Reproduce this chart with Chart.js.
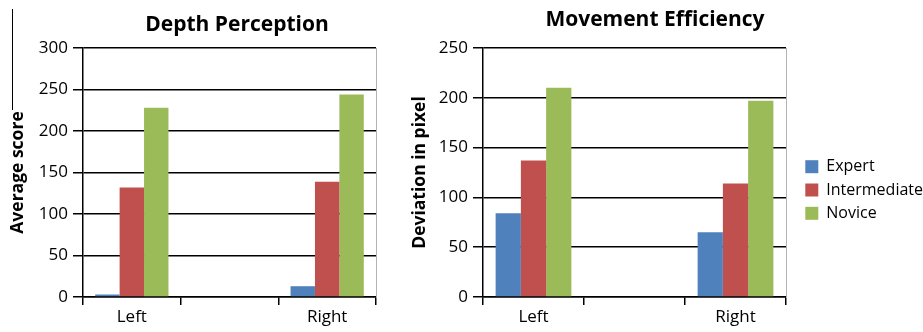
<!DOCTYPE html>
<html lang="en">
<head>
<meta charset="UTF-8">
<title>Depth Perception / Movement Efficiency</title>
<script src="https://cdn.jsdelivr.net/npm/chart.js"></script>
<style>
  body { margin: 0; background: #fff; font-family: "Open Sans", sans-serif; overflow: hidden; }
  .wrap { position: relative; width: 923px; height: 332px; }
  .box { position: absolute; top: 0; height: 332px; }
  .titulo { position: absolute; font-weight: bold; font-size: 21px; line-height: 21px; white-space: nowrap; transform: translateX(-50%); color: #000; }
  .risco { position: absolute; left: 12px; top: 9px; height: 101px; border-left: 1px solid #000; }
</style>
</head>
<body>
<div class="wrap">
  <div class="box" style="left:0; width:400px"><canvas id="depth" width="400" height="332"></canvas></div>
  <div class="box" style="left:400px; width:523px"><canvas id="movement" width="523" height="332"></canvas></div>
  <div class="risco"></div>
  <div class="titulo" style="left:237px; top:13px">Depth Perception</div>
  <div class="titulo" style="left:655px; top:8px">Movement Efficiency</div>
</div>

<script>
// dados
const categories = ['Left', '', 'Right'];
const groups = ['Expert', 'Intermediate', 'Novice'];
const colors = ['#4F81BD', '#C0504D', '#9BBB59'];

const depthExpert = [3, null, 13];
const depthIntermediate = [132, null, 139];
const depthNovice = [228, null, 244];

const moveExpert = [84, null, 65];
const moveIntermediate = [137, null, 114];
const moveNovice = [210, null, 197];

const depthMax = 300;
const moveMax = 250;
const tickStep = 50;

const FONT = 'Open Sans';

function montarGrafico(id, series, yMax, yTitle, titlePad, legenda, folgaDireita) {
    const datasets = series.map((vals, i) => ({
        label: groups[i],
        data: vals,
        backgroundColor: colors[i],
        borderWidth: 0
    }));

    return new Chart(document.getElementById(id), {
        type: 'bar',
        data: { labels: categories, datasets: datasets },
        options: {
            responsive: false,
            animation: false,
            layout: { padding: { left: 0, right: 0, top: 48, bottom: 0 } },
            datasets: { bar: { categoryPercentage: 0.75, barPercentage: 1 } },
            plugins: {
                tooltip: { enabled: false },
                legend: legenda ? {
                    display: true,
                    position: 'right',
                    align: 'center',
                    maxWidth: 125,
                    labels: {
                        boxWidth: 13, boxHeight: 13, padding: 7.3,
                        color: '#000',
                        font: { family: FONT, size: 16 }
                    }
                } : { display: false }
            },
            scales: {
                x: {
                    grid: { drawOnChartArea: false, color: '#000', lineWidth: 1.5, tickLength: 8 },
                    border: { color: '#000', width: 1.5 },
                    ticks: { color: '#000', font: { family: FONT, size: 17 }, padding: 2, maxRotation: 0, autoSkip: false },
                    afterFit: s => { s.height = 35; }
                },
                y: {
                    min: 0, max: yMax,
                    ticks: { stepSize: tickStep, color: '#000', font: { family: FONT, size: 17 }, padding: 5 },
                    grid: { color: '#000', lineWidth: 1.5, tickLength: 10 },
                    border: { color: '#000', width: 1.5 },
                    title: {
                        display: true, text: yTitle, color: '#000',
                        font: { family: FONT, size: 17.5, weight: 'bold' },
                        padding: { top: titlePad, bottom: 0 }
                    },
                    afterFit: s => { s.width = 83; }
                },
                y2: {
                    position: 'right',
                    grid: { display: false },
                    ticks: { display: false },
                    border: { color: '#b4b4b4', width: 1 },
                    afterFit: s => { s.width = folgaDireita; }
                }
            }
        }
    });
}

montarGrafico('depth', [depthExpert, depthIntermediate, depthNovice], depthMax, 'Average score', 7.5, false, 24);
montarGrafico('movement', [moveExpert, moveIntermediate, moveNovice], moveMax, 'Deviation in pixel', 9.5, true, 12);
</script>
</body>
</html>
